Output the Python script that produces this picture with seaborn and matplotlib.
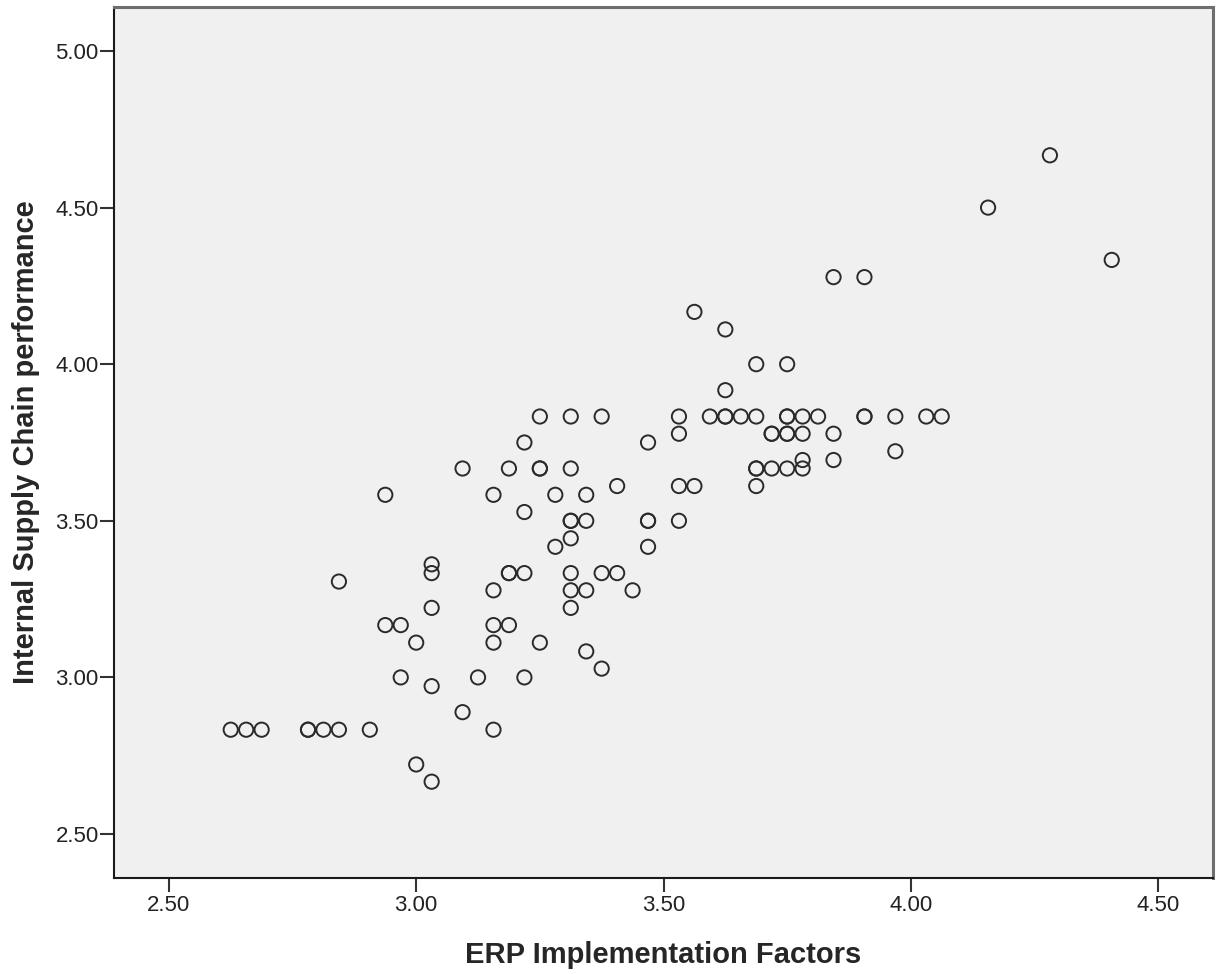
import matplotlib
matplotlib.use("Agg")
import matplotlib.pyplot as plt
import seaborn as sns
import pandas as pd

# ERP implementation factor scores (x) and internal supply chain performance (y)
erp_factors = [
    # 2.83 row
    2.625, 2.65625, 2.6875, 2.78125, 2.78125, 2.8125, 2.84375, 2.90625, 3.15625,
    2.84375, 3.03125, 3.03125, 3.15625, 3.03125, 2.9375, 2.96875, 3.0,
    3.15625, 3.15625, 2.96875, 3.03125, 3.125, 3.09375, 3.0, 3.03125,
    2.9375, 3.15625,
    # 3.83 row
    3.25, 3.3125, 3.375, 3.53125, 3.59375, 3.625, 3.625, 3.65625, 3.6875,
    3.75, 3.75, 3.78125, 3.8125, 3.90625, 3.90625, 3.96875, 4.03125, 4.0625,
    3.53125, 3.21875, 3.46875,
    # 3.67 row
    3.09375, 3.1875, 3.25, 3.25, 3.3125, 3.6875, 3.6875, 3.71875, 3.75, 3.78125,
    # 3.61 row
    3.40625, 3.53125, 3.5625, 3.6875,
    3.28125, 3.34375, 3.21875,
    # 3.50 row
    3.3125, 3.3125, 3.34375, 3.46875, 3.46875, 3.53125,
    3.3125, 3.28125, 3.46875,
    # 3.33 row
    3.1875, 3.1875, 3.21875, 3.3125, 3.375, 3.40625,
    # 3.28 row
    3.3125, 3.34375, 3.4375,
    3.3125, 3.1875, 3.25, 3.34375, 3.375, 3.21875,
    3.5625, 3.625, 3.6875, 3.75, 3.625,
    # 3.78 row
    3.71875, 3.71875, 3.75, 3.75, 3.78125, 3.84375,
    3.78125, 3.84375, 3.96875,
    4.28125, 4.15625, 4.40625, 3.90625, 3.84375,
]

supply_chain_perf = [
    2.833, 2.833, 2.833, 2.833, 2.833, 2.833, 2.833, 2.833, 2.833,
    3.306, 3.361, 3.333, 3.278, 3.222, 3.167, 3.167, 3.111,
    3.167, 3.111, 3.0, 2.972, 3.0, 2.889, 2.722, 2.667,
    3.583, 3.583,
    3.833, 3.833, 3.833, 3.833, 3.833, 3.833, 3.833, 3.833, 3.833,
    3.833, 3.833, 3.833, 3.833, 3.833, 3.833, 3.833, 3.833, 3.833,
    3.778, 3.75, 3.75,
    3.667, 3.667, 3.667, 3.667, 3.667, 3.667, 3.667, 3.667, 3.667, 3.667,
    3.611, 3.611, 3.611, 3.611,
    3.583, 3.583, 3.528,
    3.5, 3.5, 3.5, 3.5, 3.5, 3.5,
    3.444, 3.417, 3.417,
    3.333, 3.333, 3.333, 3.333, 3.333, 3.333,
    3.278, 3.278, 3.278,
    3.222, 3.167, 3.111, 3.083, 3.028, 3.0,
    4.167, 4.111, 4.0, 4.0, 3.917,
    3.778, 3.778, 3.778, 3.778, 3.778, 3.778,
    3.694, 3.694, 3.722,
    4.667, 4.5, 4.333, 4.278, 4.278,
]

x_ticks = [2.5, 3.0, 3.5, 4.0, 4.5]
y_ticks = [2.5, 3.0, 3.5, 4.0, 4.5, 5.0]

df = pd.DataFrame({"ERP Implementation Factors": erp_factors,
                   "Internal Supply Chain performance": supply_chain_perf})

sns.set_style("white")
plt.rcParams['font.family'] = ['Liberation Sans', 'DejaVu Sans']

fig = plt.figure(figsize=(12.17, 9.74), dpi=100)
ax = fig.add_axes([114 / 1217, 96 / 974, 1099 / 1217, 871 / 974])
ax.set_facecolor('#f0f0f0')

sns.scatterplot(data=df, x="ERP Implementation Factors", y="Internal Supply Chain performance",
                ax=ax, marker='o', s=105, facecolors='none', edgecolor='#2a2a2a',
                linewidth=1.4)

ax.set_xlim(2.389, 4.611)
ax.set_ylim(2.3595, 5.1405)
ax.set_xticks(x_ticks)
ax.set_yticks(y_ticks)
ax.set_xticklabels([f"{t:.2f}" for t in x_ticks])
ax.set_yticklabels([f"{t:.2f}" for t in y_ticks])
ax.tick_params(axis='both', direction='out', length=10, width=1.5, color='#333333',
               labelsize=16, labelcolor='#222222')
ax.tick_params(axis='x', pad=2)
ax.tick_params(axis='y', pad=1)
ax.tick_params(top=False, right=False, bottom=True, left=True)

for side in ['left', 'bottom']:
    ax.spines[side].set_color('#1a1a1a')
    ax.spines[side].set_linewidth(1.5)
for side in ['top', 'right']:
    ax.spines[side].set_color('#6e6e6e')
    ax.spines[side].set_linewidth(2.2)

ax.set_xlabel('ERP Implementation Factors', fontsize=21, fontweight='bold', labelpad=18)
ax.set_ylabel('Internal Supply Chain performance', fontsize=21, fontweight='bold', labelpad=11)

fig.savefig('out.png', dpi=100, facecolor='white')
